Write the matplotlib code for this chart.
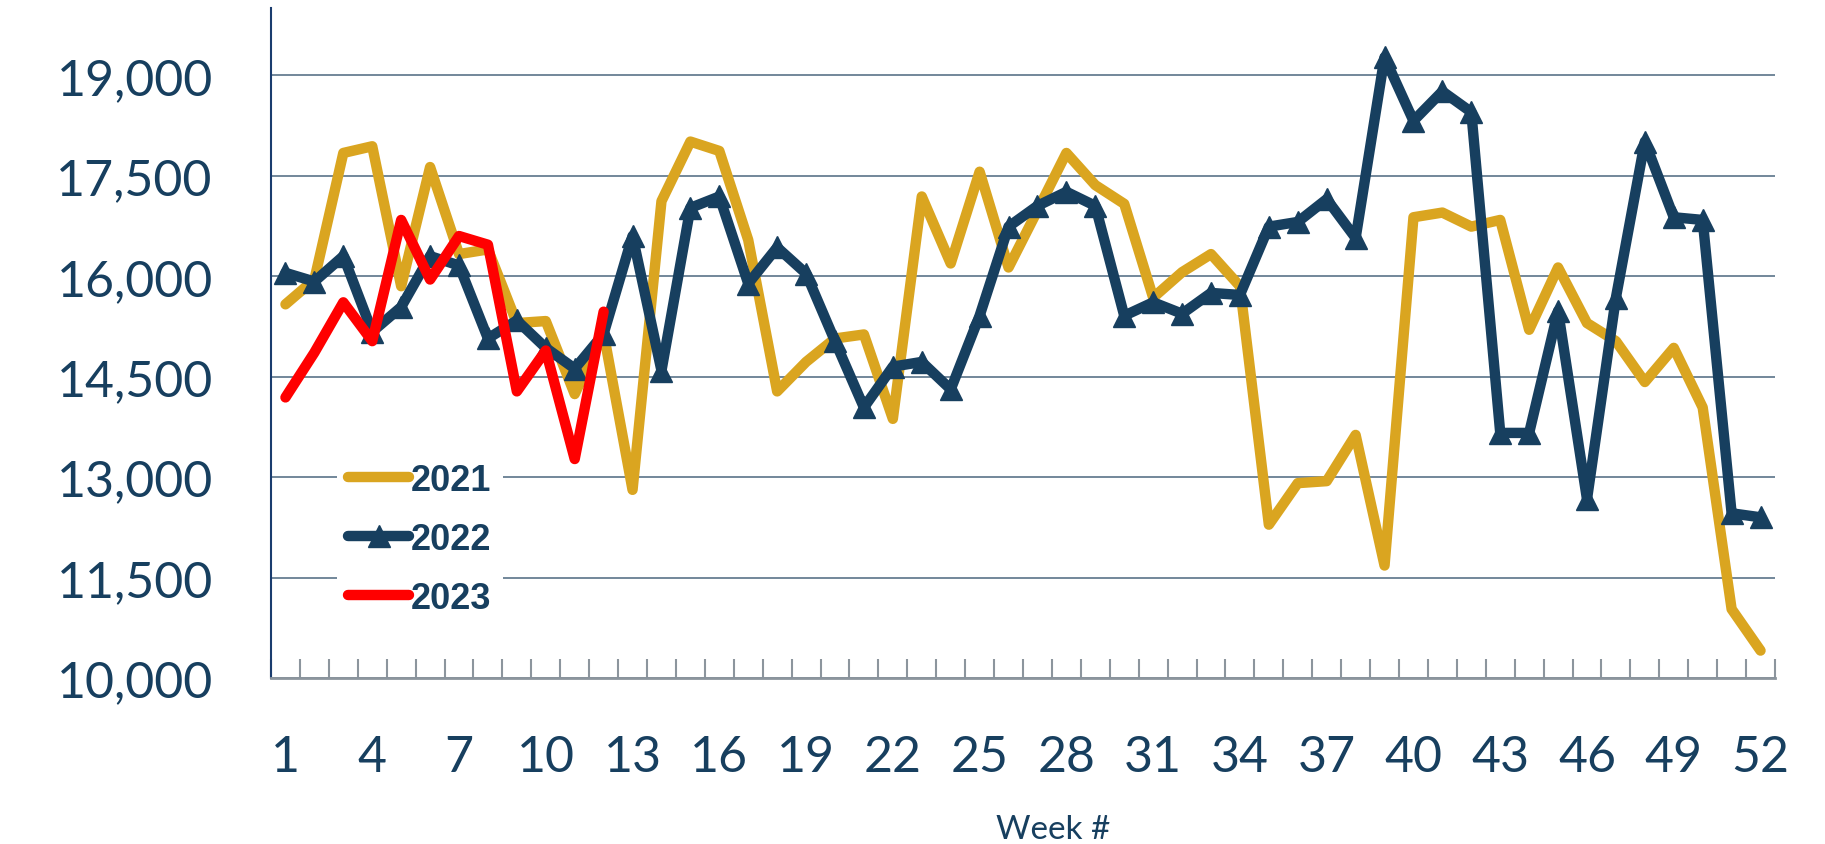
import matplotlib
matplotlib.use("Agg")
import matplotlib.pyplot as plt
from matplotlib.ticker import FixedLocator, FuncFormatter

# weekly values
weeks = list(range(1, 53))
sales_2021 = [15580, 15950, 17840, 17940, 15850, 17630, 16330, 16400, 15300, 15330,
              14240, 15150, 12810, 17120, 18010, 17870, 16540, 14280, 14720, 15070,
              15130, 13870, 17190, 16190, 17560, 16130, 16980, 17840, 17360, 17080,
              15680, 16060, 16330, 15850, 12290, 12910, 12940, 13630, 11680, 16880,
              16950, 16740, 16840, 15200, 16130, 15300, 15030, 14420, 14930, 14040,
              11030, 10410]
sales_2022 = [16050, 15920, 16300, 15170, 15540, 16300, 16160, 15070, 15340, 14930,
              14620, 15140, 16600, 14590, 17020, 17190, 15890, 16430, 16040, 15030,
              14040, 14650, 14720, 14310, 15410, 16740, 17050, 17260, 17050, 15410,
              15610, 15440, 15750, 15720, 16740, 16810, 17150, 16570, 19270, 18320,
              18760, 18450, 13660, 13660, 15480, 12670, 15680, 18010, 16880, 16840,
              12460, 12400]
sales_2023 = [14190, 14860, 15610, 15030, 16840, 15950, 16600, 16470, 14280, 14890,
              13270, 15470]
weeks_2023 = weeks[:len(sales_2023)]

y_ticks = [10000, 11500, 13000, 14500, 16000, 17500, 19000]
x_tick_weeks = list(range(1, 53, 3))

navy = "#173F5F"
gold = "#DAA520"
red = "#FF0000"
grey = "#8C959D"

fig = plt.figure(figsize=(18.25, 8.45), dpi=100)
ax = fig.add_axes([0.1485, 0.1964, 0.8241, 0.7926])

lw = 7.5
ax.plot(weeks, sales_2021, color=gold, lw=lw, solid_capstyle="round",
        solid_joinstyle="round", label="2021", zorder=3)
ax.plot(weeks, sales_2022, color=navy, lw=lw, marker="^", markersize=16,
        solid_capstyle="round", solid_joinstyle="round", label="2022", zorder=4)
ax.plot(weeks_2023, sales_2023, color=red, lw=lw, solid_capstyle="round",
        solid_joinstyle="round", label="2023", zorder=5)

ax.set_xlim(0.5, 52.5)
ax.set_ylim(10000, 20000)

# y axis
ax.yaxis.set_major_locator(FixedLocator(y_ticks))
ax.yaxis.set_major_formatter(FuncFormatter(lambda v, p: f"{int(v):,}"))
ax.tick_params(axis="y", length=0, pad=42, labelsize=36, labelcolor=navy)
ax.grid(axis="y", color="#5A7389", lw=1.2, zorder=1)

# x axis: labels every 3 weeks, tick marks between categories
ax.xaxis.set_major_locator(FixedLocator(x_tick_weeks))
ax.xaxis.set_minor_locator(FixedLocator([w + 0.5 for w in range(0, 53)]))
ax.tick_params(axis="x", which="major", length=0, pad=40, labelsize=36, labelcolor=navy)
ax.tick_params(axis="x", which="minor", direction="in", length=14, width=1.5, color=grey)

for lab in ax.get_xticklabels() + ax.get_yticklabels():
    lab.set_fontfamily("Lato")

ax.set_xlabel("Week #", fontsize=24, color=navy, family="Lato")
ax.xaxis.set_label_coords(0.52, -0.226)
ax.xaxis.label.set_va("center")

for side in ["top", "right"]:
    ax.spines[side].set_visible(False)
ax.spines["left"].set_color("#1A3C6E")
ax.spines["left"].set_linewidth(1.5)
ax.spines["bottom"].set_color(grey)
ax.spines["bottom"].set_linewidth(2)
ax.spines["bottom"].set_zorder(6)

leg = ax.legend(loc="center left", bbox_to_anchor=(0.044, 0.207), frameon=True,
                framealpha=1, edgecolor="none", facecolor="white",
                handlelength=1.7, handletextpad=0.05, labelspacing=0.66,
                borderpad=0.3, borderaxespad=0,
                prop={"family": "Liberation Sans", "weight": "bold", "size": 26})
leg.set_zorder(2)
for txt in leg.get_texts():
    txt.set_color(navy)

fig.savefig("out.png", dpi=100)
